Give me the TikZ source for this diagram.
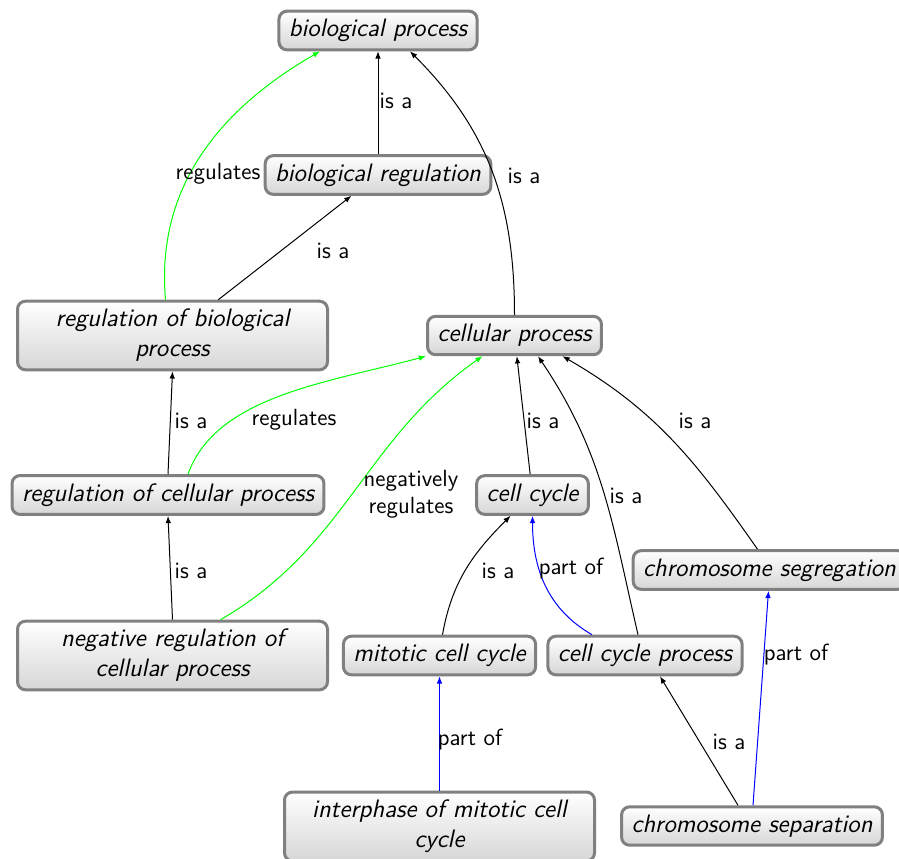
\documentclass[tikz,border=0pt]{standalone}
\usetikzlibrary{arrows.meta}

\begin{document}
\begin{tikzpicture}[x=0.5pt,y=-0.5pt,
  term/.style={draw=gray, line width=1.5pt, rounded corners=4pt,
    top color=white, bottom color=black!16,
    font=\fontsize{12.6}{15}\selectfont\sffamily\itshape, align=center,
    inner xsep=5pt, inner ysep=4pt, minimum height=17.3pt},
  wide/.style={minimum width=155pt},
  rel/.style={font=\fontsize{11.7}{13.6}\selectfont\sffamily, align=center, inner sep=1pt},
  link/.style={-{Latex[length=3.6pt,width=2.8pt]}, line width=0.5pt},
  isa/.style={link, color=black},
  partof/.style={link, color=blue},
  regul/.style={link, color=green},
]
\useasboundingbox (0,0) rectangle (899,858);

% ontology terms
\node[term] (bp) at (378,30.5) {biological process};
\node[term] (br) at (378,175) {biological regulation};
\node[term,wide] (rbp) at (172.5,335.5) {regulation of biological\\process};
\node[term] (cp) at (514.5,335.5) {cellular process};
\node[term,wide] (rcp) at (168,495) {regulation of cellular process};
\node[term] (cc) at (532.5,495) {cell cycle};
\node[term] (cs) at (769.5,570) {chromosome segregation};
\node[term,wide] (nrcp) at (172.5,655.5) {negative regulation of\\cellular process};
\node[term] (mcc) at (439.5,655.5) {mitotic cell cycle};
\node[term] (ccp) at (645,655.5) {cell cycle process};
\node[term,wide] (ipm) at (439.5,826.5) {interphase of mitotic cell\\cycle};
\node[term] (csep) at (752,826) {chromosome separation};

% relations
\draw[isa] (br) -- (bp);
\draw[isa] (cp.north) to[out=90,in=-45] ([xshift=16pt]bp.south);
\draw[regul] ([xshift=-3.5pt]rbp.north) to[out=95,in=210] ([xshift=-29pt]bp.south);
\draw[isa] (rbp) -- (br);
\draw[isa] (rcp.north) -- (rbp.south);
\draw[regul] ([xshift=10pt]rcp.north) to[out=70,in=195,out looseness=0.8,in looseness=1] (cp.south west);
\draw[isa] (nrcp.north) -- (rcp.south);
\draw[regul] ([xshift=24pt]nrcp.north) to[out=30,in=-145] ([xshift=-16pt]cp.south);
\draw[isa] (cc) -- (cp);
\draw[isa] ([xshift=-3.5pt]ccp.north) to[out=103,in=-56] ([xshift=11.75pt]cp.south);
\draw[isa] ([xshift=-6pt]cs.north) to[out=125,in=-30] ([xshift=24pt]cp.south);
\draw[isa] ([xshift=1.5pt]mcc.north) to[out=80,in=-135] ([xshift=-11pt]cc.south);
\draw[partof] ([xshift=-26.5pt]ccp.north) to[out=150,in=-90] (cc.south);
\draw[partof] (ipm) -- (mcc);
\draw[isa] ([xshift=-7pt]csep.north) -- ([xshift=7.5pt]ccp.south);
\draw[partof] ([xshift=0.5pt]csep.north) -- ([xshift=-0.5pt]cs.south);

% relation labels
\node[rel] (lbrbp) at (396,101) {is a};
\node[rel] (lcpbp) at (524,176) {is a};
\node[rel] (lrbpbp) at (218,174) {regulates};
\node[rel] (lrbpbr) at (333,251) {is a};
\node[rel] (lrcprbp) at (191,421) {is a};
\node[rel] (lrcpcp) at (294,420) {regulates};
\node[rel] (lnrcprcp) at (191,571) {is a};
\node[rel] (lnrcpcp) at (411,494) {negatively\\regulates};
\node[rel] (lcccp) at (543,421) {is a};
\node[rel] (lccpcp) at (626,496) {is a};
\node[rel] (lcscp) at (695,421) {is a};
\node[rel] (lmcccc) at (498,571) {is a};
\node[rel] (lccpcc) at (571,569) {part of};
\node[rel] (lipmmcc) at (470,740) {part of};
\node[rel] (lcsepccp) at (729,742) {is a};
\node[rel] (lcsepcs) at (796,655) {part of};
\end{tikzpicture}
\end{document}
